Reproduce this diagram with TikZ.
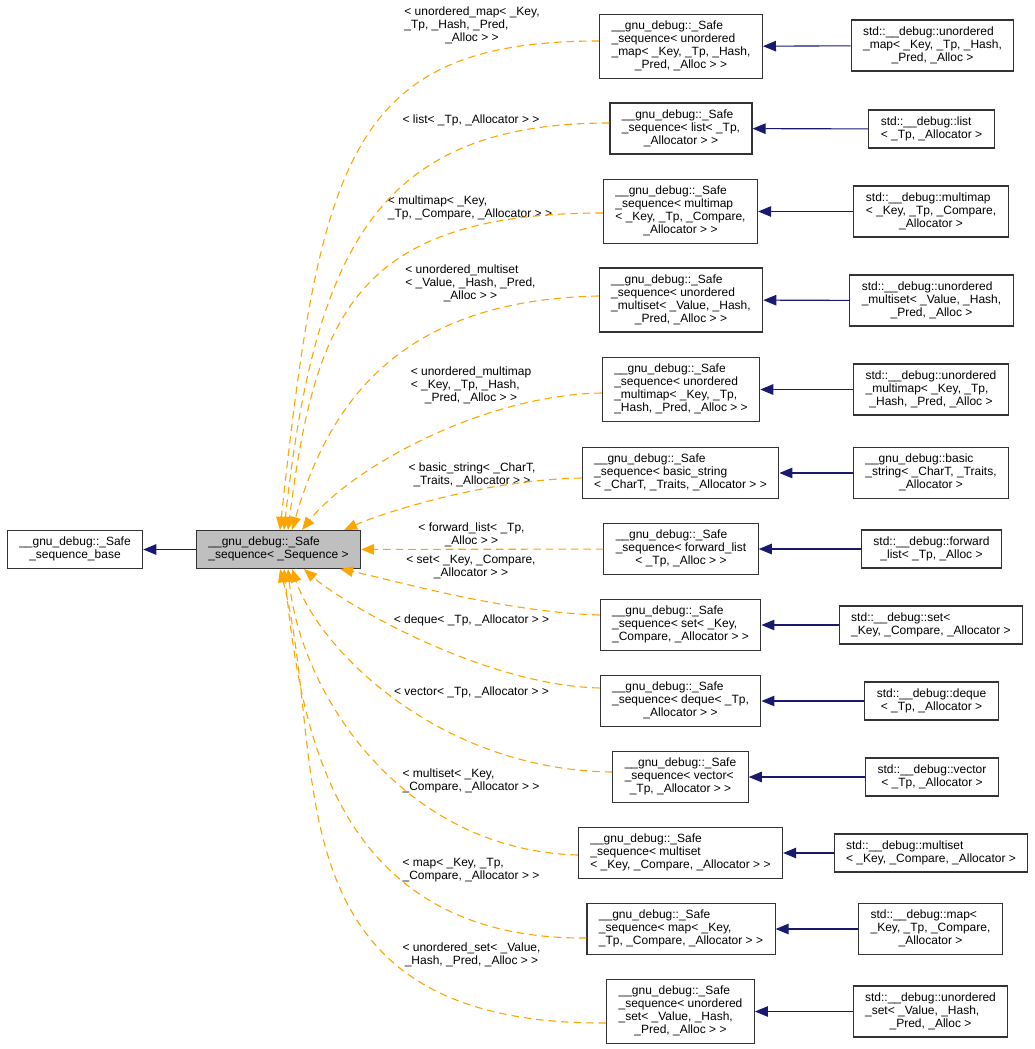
\documentclass[tikz,border=0pt]{standalone}
\usepackage{fontspec}
\setmainfont{Liberation Sans}
\usetikzlibrary{arrows.meta}
\definecolor{edgeblue}{RGB}{25,25,112}
\definecolor{edgeorange}{RGB}{255,165,0}
\definecolor{boxgray}{RGB}{191,191,191}
\newcommand{\dlab}[2]{\begin{tabular}{@{}l@{}}#1\\\multicolumn{1}{@{}c@{}}{#2}\end{tabular}}
\tikzset{
    every node/.style={
        text=black,
        font=\fontsize{12pt}{13pt}\selectfont
    },
    every path/.style={
        line width=1.1pt
    }
}
\tikzstyle{cls}=[draw=black!80, inner xsep=12pt, inner ysep=6pt]
\tikzstyle{elabel}=[inner sep=0pt]
\tikzstyle{inh}=[edgeblue, -{Triangle[length=13pt,width=10.5pt]}]
\tikzstyle{dep}=[edgeorange, dash pattern=on 7.5pt off 5pt, -{Triangle[length=13pt,width=10.5pt]}]

\begin{document}
\begin{tikzpicture}[x=1pt, y=-1pt]
\useasboundingbox (0,0) rectangle (1035,1049);

\node[cls] (base) at (75, 549.5) {\dlab{\_\_gnu\_debug::\_Safe}{\_sequence\_base}};
\node[cls, fill=boxgray] (main) at (278.5, 549.5) {\dlab{\_\_gnu\_debug::\_Safe}{\_sequence< \_Sequence >}};

\node[cls] (s1) at (681, 46.5) {\dlab{\_\_gnu\_debug::\_Safe\\\_sequence< unordered\\\_map< \_Key, \_Tp, \_Hash,}{\_Pred, \_Alloc > >}};
\node[cls] (s2) at (681, 128.5) {\dlab{\_\_gnu\_debug::\_Safe\\\_sequence< list< \_Tp,}{\_Allocator > >}};
\node[cls] (s3) at (680.5, 211.5) {\dlab{\_\_gnu\_debug::\_Safe\\\_sequence< multimap\\< \_Key, \_Tp, \_Compare,}{\_Allocator > >}};
\node[cls] (s4) at (681, 300) {\dlab{\_\_gnu\_debug::\_Safe\\\_sequence< unordered\\\_multiset< \_Value, \_Hash,}{\_Pred, \_Alloc > >}};
\node[cls] (s5) at (681, 389.5) {\dlab{\_\_gnu\_debug::\_Safe\\\_sequence< unordered\\\_multimap< \_Key, \_Tp,}{\_Hash, \_Pred, \_Alloc > >}};
\node[cls] (s6) at (680.5, 473) {\dlab{\_\_gnu\_debug::\_Safe\\\_sequence< basic\_string}{< \_CharT, \_Traits, \_Allocator > >}};
\node[cls] (s7) at (681, 549) {\dlab{\_\_gnu\_debug::\_Safe\\\_sequence< forward\_list}{< \_Tp, \_Alloc > >}};
\node[cls] (s8) at (680.5, 625) {\dlab{\_\_gnu\_debug::\_Safe\\\_sequence< set< \_Key,}{\_Compare, \_Allocator > >}};
\node[cls] (s9) at (680.5, 701) {\dlab{\_\_gnu\_debug::\_Safe\\\_sequence< deque< \_Tp,}{\_Allocator > >}};
\node[cls] (s10) at (680.5, 777) {\dlab{\_\_gnu\_debug::\_Safe\\\_sequence< vector<}{\_Tp, \_Allocator > >}};
\node[cls] (s11) at (680.5, 853) {\dlab{\_\_gnu\_debug::\_Safe\\\_sequence< multiset}{< \_Key, \_Compare, \_Allocator > >}};
\node[cls] (s12) at (681, 929) {\dlab{\_\_gnu\_debug::\_Safe\\\_sequence< map< \_Key,}{\_Tp, \_Compare, \_Allocator > >}};
\node[cls] (s13) at (680.5, 1011.5) {\dlab{\_\_gnu\_debug::\_Safe\\\_sequence< unordered\\\_set< \_Value, \_Hash,}{\_Pred, \_Alloc > >}};

\node[cls] (d1) at (932.5, 45.5) {\dlab{std::\_\_debug::unordered\\\_map< \_Key, \_Tp, \_Hash,}{\_Pred, \_Alloc >}};
\node[cls] (d2) at (931.5, 129) {\dlab{std::\_\_debug::list}{< \_Tp, \_Allocator >}};
\node[cls] (d3) at (931, 211.5) {\dlab{std::\_\_debug::multimap\\< \_Key, \_Tp, \_Compare,}{\_Allocator >}};
\node[cls] (d4) at (931.5, 300.5) {\dlab{std::\_\_debug::unordered\\\_multiset< \_Value, \_Hash,}{\_Pred, \_Alloc >}};
\node[cls] (d5) at (931, 389.5) {\dlab{std::\_\_debug::unordered\\\_multimap< \_Key, \_Tp,}{\_Hash, \_Pred, \_Alloc >}};
\node[cls] (d6) at (931, 473) {\dlab{\_\_gnu\_debug::basic\\\_string< \_CharT, \_Traits,}{\_Allocator >}};
\node[cls] (d7) at (931.5, 549) {\dlab{std::\_\_debug::forward}{\_list< \_Tp, \_Alloc >}};
\node[cls] (d8) at (931, 625) {\dlab{std::\_\_debug::set<}{\_Key, \_Compare, \_Allocator >}};
\node[cls] (d9) at (931.5, 701) {\dlab{std::\_\_debug::deque}{< \_Tp, \_Allocator >}};
\node[cls] (d10) at (932, 777) {\dlab{std::\_\_debug::vector}{< \_Tp, \_Allocator >}};
\node[cls] (d11) at (931, 853) {\dlab{std::\_\_debug::multiset}{< \_Key, \_Compare, \_Allocator >}};
\node[cls] (d12) at (930.5, 929) {\dlab{std::\_\_debug::map<\\\_Key, \_Tp, \_Compare,}{\_Allocator >}};
\node[cls] (d13) at (930.5, 1011.5) {\dlab{std::\_\_debug::unordered\\\_set< \_Value, \_Hash,}{\_Pred, \_Alloc >}};

% template argument labels
\node[elabel] (l1) at (472, 25.5) {\dlab{< unordered\_map< \_Key,\\\_Tp, \_Hash, \_Pred,}{\_Alloc > >}};
\node[elabel] (l2) at (471, 120) {< list< \_Tp, \_Allocator > >};
\node[elabel] (l3) at (470, 208) {\dlab{< multimap< \_Key,}{\_Tp, \_Compare, \_Allocator > >}};
\node[elabel] (l4) at (470.5, 284) {\dlab{< unordered\_multiset\\< \_Value, \_Hash, \_Pred,}{\_Alloc > >}};
\node[elabel] (l5) at (471, 386) {\dlab{< unordered\_multimap\\< \_Key, \_Tp, \_Hash,}{\_Pred, \_Alloc > >}};
\node[elabel] (l6) at (472, 475) {\dlab{< basic\_string< \_CharT,}{\_Traits, \_Allocator > >}};
\node[elabel] (l7) at (471.5, 535) {\dlab{< forward\_list< \_Tp,}{\_Alloc > >}};
\node[elabel] (l8) at (471, 567) {\dlab{< set< \_Key, \_Compare,}{\_Allocator > >}};
\node[elabel] (l9) at (471.5, 620) {< deque< \_Tp, \_Allocator > >};
\node[elabel] (l10) at (471.5, 692) {< vector< \_Tp, \_Allocator > >};
\node[elabel] (l11) at (471, 781.5) {\dlab{< multiset< \_Key,}{\_Compare, \_Allocator > >}};
\node[elabel] (l12) at (471, 870) {\dlab{< map< \_Key, \_Tp,}{\_Compare, \_Allocator > >}};
\node[elabel] (l13) at (471.5, 955) {\dlab{< unordered\_set< \_Value,}{\_Hash, \_Pred, \_Alloc > >}};

\path[inh] (main) edge (base);
\path[inh] (d1) edge (s1);
\path[inh] (d2) edge (s2);
\path[inh] (d3) edge (s3);
\path[inh] (d4) edge (s4);
\path[inh] (d5) edge (s5);
\path[inh] (d6) edge (s6);
\path[inh] (d7) edge (s7);
\path[inh] (d8) edge (s8);
\path[inh] (d9) edge (s9);
\path[inh] (d10) edge (s10);
\path[inh] (d11) edge (s11);
\path[inh] (d12) edge (s12);
\path[inh] (d13) edge (s13);

\draw[dep] ([yshift=5.5pt]s1.west) .. controls +(-249,0) and +(40,-371) .. ([xshift=1.5pt]main.north);
\draw[dep] ([yshift=5.5pt]s2.west) .. controls +(-232,0) and +(31,-281) .. ([xshift=5.5pt]main.north);
\draw[dep] ([yshift=-1.5pt]s3.west) .. controls +(-250,0) and +(27,-211) .. ([xshift=9.5pt]main.north);
\draw[dep] ([yshift=4pt]s4.west) .. controls +(-196,4) and +(38,-131) .. ([xshift=13.5pt]main.north);
\draw[dep] ([yshift=-3.5pt]s5.west) .. controls +(-120,2) and +(48,-61) .. ([xshift=23.5pt]main.north);
\draw[dep] ([yshift=-5pt]s6.west) .. controls +(-100,2) and +(36,-16) .. ([xshift=-17pt]main.north east);
\path[dep] (s7) edge (main);
\draw[dep] ([yshift=10pt]s8.west) .. controls +(-98,-3) and +(50,10) .. ([xshift=-21pt]main.south east);
\draw[dep] ([yshift=13pt]s9.west) .. controls +(-119,-3) and +(36,32) .. ([xshift=25.5pt]main.south);
\draw[dep] ([yshift=5pt]s10.west) .. controls +(-172,-2) and +(28,82) .. ([xshift=13.5pt]main.south);
\draw[dep] ([yshift=-2pt]s11.west) .. controls +(-178,-5) and +(12,122) .. ([xshift=9.5pt]main.south);
\draw[dep] ([yshift=-9pt]s12.west) .. controls +(-256,2) and +(16,152) .. ([xshift=5.5pt]main.south);
\draw[dep] ([yshift=-11.5pt]s13.west) .. controls +(-345,2) and +(50,192) .. ([xshift=1.5pt]main.south);

\end{tikzpicture}
\end{document}
